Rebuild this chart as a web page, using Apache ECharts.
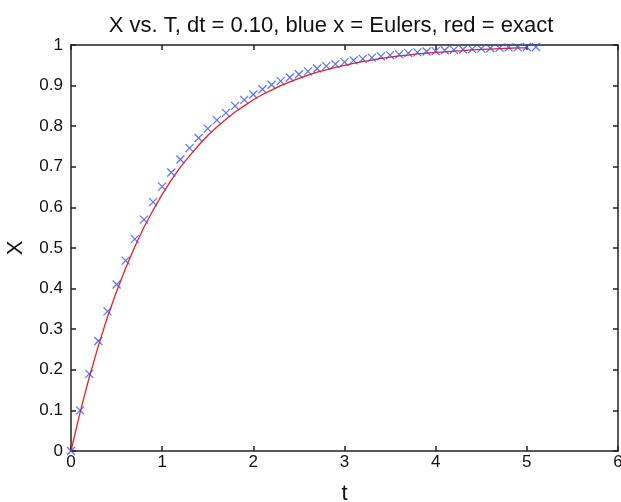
<!DOCTYPE html>
<html>
<head>
<meta charset="utf-8">
<script src="https://cdn.jsdelivr.net/npm/echarts@6/dist/echarts.min.js"></script>
<style>
  html, body { margin: 0; padding: 0; background: #fff; }
  #chart { width: 621px; height: 502px; }
</style>
</head>
<body>
<div id="chart"></div>
<script>
// Euler steps (blue x)
const tEuler = [0, 0.1, 0.2, 0.3, 0.4, 0.5, 0.6, 0.7, 0.8, 0.9, 1.0, 1.1, 1.2, 1.3, 1.4, 1.5, 1.6, 1.7,
  1.8, 1.9, 2.0, 2.1, 2.2, 2.3, 2.4, 2.5, 2.6, 2.7, 2.8, 2.9, 3.0, 3.1, 3.2, 3.3, 3.4, 3.5, 3.6,
  3.7, 3.8, 3.9, 4.0, 4.1, 4.2, 4.3, 4.4, 4.5, 4.6, 4.7, 4.8, 4.9, 5.0, 5.1]
const xEuler = [0, 0.1, 0.19, 0.271, 0.344, 0.41, 0.469, 0.522, 0.57, 0.613, 0.651, 0.686, 0.718,
  0.746, 0.771, 0.794, 0.815, 0.833, 0.85, 0.865, 0.878, 0.891, 0.902, 0.911, 0.92, 0.928, 0.935,
  0.942, 0.948, 0.953, 0.958, 0.962, 0.966, 0.969, 0.972, 0.975, 0.977, 0.98, 0.982, 0.984, 0.985,
  0.987, 0.988, 0.989, 0.99, 0.991, 0.992, 0.993, 0.994, 0.994, 0.995, 0.995]

// exact solution (red line)
const tExact = [0, 0.1, 0.2, 0.3, 0.4, 0.5, 0.6, 0.7, 0.8, 0.9, 1.0, 1.1, 1.2, 1.3, 1.4, 1.5, 1.6, 1.7,
  1.8, 1.9, 2.0, 2.1, 2.2, 2.3, 2.4, 2.5, 2.6, 2.7, 2.8, 2.9, 3.0, 3.1, 3.2, 3.3, 3.4, 3.5, 3.6,
  3.7, 3.8, 3.9, 4.0, 4.1, 4.2, 4.3, 4.4, 4.5, 4.6, 4.7, 4.8, 4.9, 5.0]
const xExact = [0, 0.095, 0.181, 0.259, 0.33, 0.393, 0.451, 0.503, 0.551, 0.593, 0.632, 0.667, 0.699,
  0.727, 0.753, 0.777, 0.798, 0.817, 0.835, 0.85, 0.865, 0.878, 0.889, 0.9, 0.909, 0.918, 0.926,
  0.933, 0.939, 0.945, 0.95, 0.955, 0.959, 0.963, 0.967, 0.97, 0.973, 0.975, 0.978, 0.98, 0.982,
  0.983, 0.985, 0.986, 0.988, 0.989, 0.99, 0.991, 0.992, 0.993, 0.993]

const font = 'Liberation Sans, Arial, sans-serif'
const myChart = echarts.init(document.getElementById('chart'), null, { renderer: 'canvas' })

const boxAxis = {
  type: 'value',
  min: 0,
  axisLine: { show: true, onZero: false, lineStyle: { color: '#222', width: 1.5 } },
  axisTick: { show: true, inside: true, length: 5, lineStyle: { color: '#222', width: 1.5 } },
  splitLine: { show: false }
}

const option = {
  animation: false,
  backgroundColor: '#fff',
  title: {
    text: 'X vs. T, dt = 0.10, blue x = Eulers, red = exact',
    left: 326,
    top: 10,
    textAlign: 'center',
    textStyle: { fontFamily: font, fontSize: 22, fontWeight: 'normal', color: '#111' }
  },
  grid: { left: 71, right: 3, top: 45, bottom: 51, containLabel: false, outerBoundsMode: 'none' },
  xAxis: [
    Object.assign({}, boxAxis, {
      max: 6,
      interval: 1,
      position: 'bottom',
      name: 't',
      nameLocation: 'middle',
      nameGap: 32,
      nameTextStyle: { fontFamily: font, fontSize: 22, color: '#111' },
      axisLabel: { fontFamily: font, fontSize: 17, color: '#111', margin: 3 }
    }),
    Object.assign({}, boxAxis, {
      max: 6,
      interval: 1,
      position: 'top',
      axisLabel: { show: false }
    })
  ],
  yAxis: [
    Object.assign({}, boxAxis, {
      max: 1,
      interval: 0.1,
      position: 'left',
      name: 'X',
      nameLocation: 'middle',
      nameGap: 44,
      nameTextStyle: { fontFamily: font, fontSize: 22, color: '#111' },
      axisLabel: { fontFamily: font, fontSize: 17, color: '#111', margin: 8,
        formatter: v => String(Math.round(v * 10) / 10) }
    }),
    Object.assign({}, boxAxis, {
      max: 1,
      interval: 0.1,
      position: 'right',
      axisLabel: { show: false }
    })
  ],
  series: [
    {
      name: 'exact',
      type: 'line',
      data: tExact.map((t, i) => [t, xExact[i]]),
      showSymbol: false,
      symbol: 'none',
      lineStyle: { color: '#ff1a1a', width: 1.3 },
      z: 2
    },
    {
      name: 'Eulers',
      type: 'scatter',
      data: tEuler.map((t, i) => [t, xEuler[i]]),
      symbol: 'path://M0,0L10,10M10,0L0,10',
      symbolSize: 8,
      itemStyle: { color: 'none', borderColor: '#2b4dff', borderWidth: 1.2 },
      z: 3
    }
  ]
}

myChart.setOption(option)
</script>
</body>
</html>
